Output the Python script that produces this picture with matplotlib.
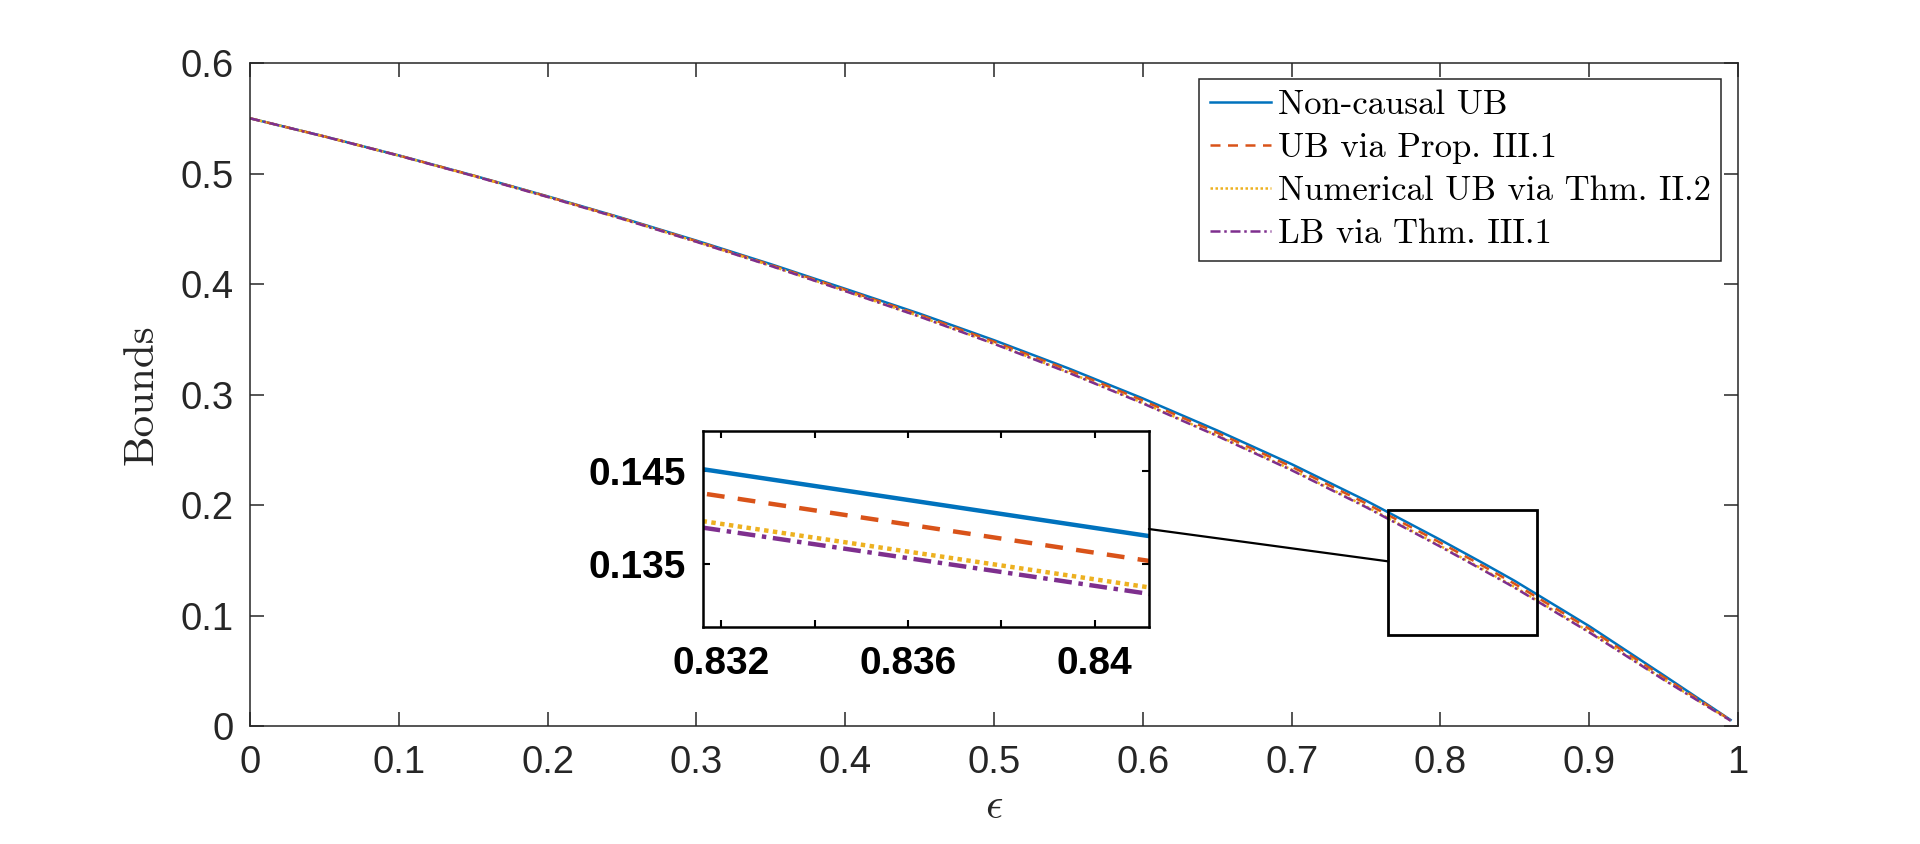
import matplotlib
matplotlib.use("Agg")
import matplotlib.pyplot as plt
from matplotlib.patches import Rectangle, ConnectionPatch

plt.rcParams['mathtext.fontset'] = 'cm'
plt.rcParams['font.family'] = ['Liberation Sans', 'DejaVu Sans']

# epsilon grid and the four bounds
eps = [0.00, 0.05, 0.10, 0.15, 0.20, 0.25, 0.30, 0.35, 0.40, 0.45, 0.50, 0.55,
       0.60, 0.65, 0.70, 0.75, 0.80, 0.83, 0.845, 0.85, 0.90, 0.95, 0.995]
ub_noncausal = [0.5500, 0.5336, 0.5164, 0.4983, 0.4794, 0.4598, 0.4393, 0.4180, 0.3957,
                0.3732, 0.3492, 0.3237, 0.2965, 0.2675, 0.2370, 0.2040, 0.1685, 0.1464,
                0.1351, 0.1313, 0.0904, 0.0460, 0.0055]
ub_prop = [0.5500, 0.5336, 0.5163, 0.4982, 0.4792, 0.4595, 0.4388, 0.4173, 0.3948,
           0.3721, 0.3478, 0.3221, 0.2946, 0.2654, 0.2347, 0.2015, 0.1659, 0.1438,
           0.1324, 0.1286, 0.0880, 0.0443, 0.0053]
ub_num = [0.5500, 0.5335, 0.5162, 0.4980, 0.4789, 0.4591, 0.4383, 0.4166, 0.3938,
          0.3708, 0.3462, 0.3202, 0.2925, 0.2630, 0.2321, 0.1988, 0.1630, 0.1408,
          0.1296, 0.1258, 0.0854, 0.0424, 0.0050]
lb_thm = [0.5500, 0.5335, 0.5162, 0.4979, 0.4788, 0.4590, 0.4382, 0.4164, 0.3936,
          0.3705, 0.3459, 0.3198, 0.2920, 0.2625, 0.2315, 0.1981, 0.1623, 0.1401,
          0.1289, 0.1251, 0.0848, 0.0419, 0.0049]

labels = ['Non-causal UB', 'UB via Prop. III.1', 'Numerical UB via Thm. II.2', 'LB via Thm. III.1']
colors = ['#0072BD', '#D95319', '#EDB120', '#7E2F8E']
series = [ub_noncausal, ub_prop, ub_num, lb_thm]

xticks = [0, 0.1, 0.2, 0.3, 0.4, 0.5, 0.6, 0.7, 0.8, 0.9, 1]
xticklabels = ['0', '0.1', '0.2', '0.3', '0.4', '0.5', '0.6', '0.7', '0.8', '0.9', '1']
yticks = [0, 0.1, 0.2, 0.3, 0.4, 0.5, 0.6]
yticklabels = ['0', '0.1', '0.2', '0.3', '0.4', '0.5', '0.6']

zoom_xticks = [0.832, 0.834, 0.836, 0.838, 0.840]
zoom_xticklabels = ['0.832', '', '0.836', '', '0.84']
zoom_yticks = [0.135, 0.145]
zoom_yticklabels = ['0.135', '0.145']

axcol = '#262626'


def style_line(ax, x, y, i, lw):
    if i == 0:
        ax.plot(x, y, color=colors[i], lw=lw, linestyle='-', label=labels[i])
    elif i == 1:
        ax.plot(x, y, color=colors[i], lw=lw, linestyle=(0, (4, 3)), label=labels[i])
    elif i == 2:
        ax.plot(x, y, color=colors[i], lw=lw, linestyle=(0, (1, 1)), label=labels[i])
    else:
        ax.plot(x, y, color=colors[i], lw=lw, linestyle=(0, (4, 1.5, 1, 1.5)), label=labels[i])


fig = plt.figure(figsize=(19.2, 8.44), dpi=100)
ax = fig.add_axes([0.1302, 0.1398, 0.775, 0.7855])

for i, s in enumerate(series):
    style_line(ax, eps, s, i, 1.8)

ax.set_xlim(0, 1)
ax.set_ylim(0, 0.6)
ax.set_xticks(xticks)
ax.set_xticklabels(xticklabels)
ax.set_yticks(yticks)
ax.set_yticklabels(yticklabels)
ax.tick_params(direction='in', length=10, width=1.1, top=True, right=True,
               labelsize=27.5, colors=axcol, pad=12)
ax.tick_params(axis='x', pad=14)
for sp in ax.spines.values():
    sp.set_color(axcol)
    sp.set_linewidth(1.1)

ax.set_ylabel('Bounds', fontfamily='cmr10', fontsize=31, color=axcol, labelpad=14)
ax.set_xlabel(r'$\epsilon$', fontsize=31, color=axcol, labelpad=4)

leg = ax.legend(loc='upper right', bbox_to_anchor=(0.9886, 0.9759), borderaxespad=0,
                prop={'family': 'cmr10', 'size': 25}, fancybox=False, framealpha=1,
                edgecolor=axcol, handlelength=1.75, handletextpad=0.2,
                labelspacing=0.33, borderpad=0.3)
leg.get_frame().set_linewidth(1.1)

# zoom rectangle on the main axes
ax.add_patch(Rectangle((0.765, 0.0824), 0.100, 0.1131, fill=False, ec='black', lw=2, zorder=5))

# inset
axin = fig.add_axes([0.3661, 0.2571, 0.2323, 0.2322])
for i, s in enumerate(series):
    style_line(axin, eps, s, i, 3.2)
axin.set_xlim(0.83161, 0.84116)
axin.set_ylim(0.1282, 0.1493)
axin.set_xticks(zoom_xticks)
axin.set_xticklabels(zoom_xticklabels)
axin.set_yticks(zoom_yticks)
axin.set_yticklabels(zoom_yticklabels)
axin.tick_params(direction='in', length=5, width=1.5, top=True, right=True,
                 labelsize=28, colors='black', pad=12)
axin.tick_params(axis='x', pad=14)
for lab in axin.get_xticklabels() + axin.get_yticklabels():
    lab.set_fontweight('bold')
for sp in axin.spines.values():
    sp.set_color('black')
    sp.set_linewidth(1.8)

con = ConnectionPatch(xyA=(1.0, 0.5), coordsA=axin.transAxes,
                      xyB=(0.765, 0.149), coordsB=ax.transData,
                      color='black', lw=1.6)
fig.add_artist(con)

fig.savefig('out.png', dpi=100)
